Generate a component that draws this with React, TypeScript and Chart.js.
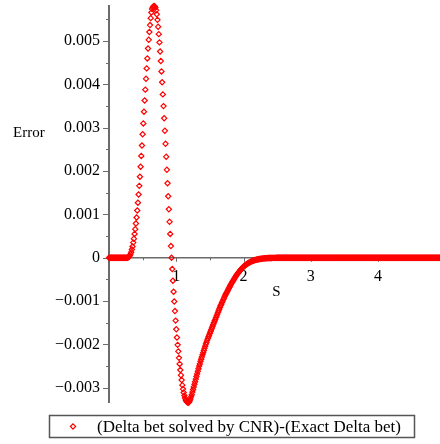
import React, { useEffect, useRef } from 'react';
import { Chart, registerables } from 'chart.js';

Chart.register(...registerables);

// ---- data ----
const SERIES_LABEL = '(Delta bet solved by CNR)-(Exact Delta bet)';
const X_TITLE = 'S';
const Y_TITLE = 'Error';

// sample grid of S
const S_START = 0;
const S_STEP = 0.01;
// Error values in units of 1e-3, one per S sample (S = 0.00, 0.01, ... 4.92)
const ERROR_UNIT = 1e-3;
const ERROR_MILLI = [
  0, 0, 0, 0, 0, 0, 0, 0, 0, 0, // 0.00
  0, 0, 0, 0, 0, 0, 0, 0, 0, 0, // 0.10
  0, 0, 0, 0, 0, 0, 0.001, 0.002, 0.005, 0.012, // 0.20
  0.025, 0.05, 0.085, 0.13, 0.19, 0.26, 0.35, 0.44, 0.55, 0.66, // 0.30
  0.79, 0.93, 1.09, 1.27, 1.46, 1.66, 1.87, 2.10, 2.35, 2.59, // 0.40
  2.85, 3.10, 3.37, 3.63, 3.88, 4.13, 4.37, 4.60, 4.83, 5.03, // 0.50
  5.21, 5.37, 5.53, 5.66, 5.74, 5.78, 5.80, 5.81, 5.80, 5.77, // 0.60
  5.71, 5.62, 5.49, 5.33, 5.16, 4.97, 4.76, 4.54, 4.30, 4.05, // 0.70
  3.77, 3.50, 3.22, 2.93, 2.63, 2.33, 2.03, 1.72, 1.42, 1.12, // 0.80
  0.83, 0.55, 0.27, 0, -0.26, -0.53, -0.785, -1.01, -1.23, -1.45, // 0.90
  -1.65, -1.84, -2.01, -2.16, -2.31, -2.45, -2.59, -2.71, -2.82, -2.94, // 1.00
  -3.03, -3.11, -3.18, -3.235, -3.28, -3.31, -3.33, -3.34, -3.345, -3.33, // 1.10
  -3.30, -3.26, -3.21, -3.16, -3.10, -3.04, -2.98, -2.92, -2.86, -2.80, // 1.20
  -2.74, -2.68, -2.62, -2.56, -2.50, -2.45, -2.39, -2.34, -2.29, -2.24, // 1.30
  -2.19, -2.14, -2.09, -2.04, -1.99, -1.95, -1.90, -1.86, -1.82, -1.78, // 1.40
  -1.74, -1.70, -1.66, -1.62, -1.58, -1.54, -1.50, -1.46, -1.42, -1.38, // 1.50
  -1.34, -1.30, -1.26, -1.22, -1.18, -1.14, -1.10, -1.07, -1.03, -1.00, // 1.60
  -0.96, -0.93, -0.89, -0.86, -0.83, -0.80, -0.77, -0.74, -0.71, -0.68, // 1.70
  -0.65, -0.62, -0.59, -0.565, -0.54, -0.515, -0.49, -0.465, -0.44, -0.415, // 1.80
  -0.39, -0.37, -0.35, -0.33, -0.31, -0.29, -0.27, -0.25, -0.235, -0.22, // 1.90
  -0.205, -0.19, -0.178, -0.166, -0.155, -0.144, -0.134, -0.124, -0.115, -0.106, // 2.00
  -0.098, -0.09, -0.083, -0.076, -0.07, -0.064, -0.059, -0.054, -0.049, -0.045, // 2.10
  -0.041, -0.037, -0.034, -0.031, -0.028, -0.025, -0.023, -0.021, -0.019, -0.017, // 2.20
  -0.015, -0.014, -0.012, -0.011, -0.01, -0.009, -0.008, -0.007, -0.006, -0.006, // 2.30
  -0.005, -0.004, -0.004, -0.003, -0.003, -0.003, -0.002, -0.002, -0.002, -0.001, // 2.40
  -0.001, 0, 0, 0, 0, 0, 0, 0, 0, 0, // 2.50
  0, 0, 0, 0, 0, 0, 0, 0, 0, 0, // 2.60
  0, 0, 0, 0, 0, 0, 0, 0, 0, 0, // 2.70
  0, 0, 0, 0, 0, 0, 0, 0, 0, 0, // 2.80
  0, 0, 0, 0, 0, 0, 0, 0, 0, 0, // 2.90
  0, 0, 0, 0, 0, 0, 0, 0, 0, 0, // 3.00
  0, 0, 0, 0, 0, 0, 0, 0, 0, 0, // 3.10
  0, 0, 0, 0, 0, 0, 0, 0, 0, 0, // 3.20
  0, 0, 0, 0, 0, 0, 0, 0, 0, 0, // 3.30
  0, 0, 0, 0, 0, 0, 0, 0, 0, 0, // 3.40
  0, 0, 0, 0, 0, 0, 0, 0, 0, 0, // 3.50
  0, 0, 0, 0, 0, 0, 0, 0, 0, 0, // 3.60
  0, 0, 0, 0, 0, 0, 0, 0, 0, 0, // 3.70
  0, 0, 0, 0, 0, 0, 0, 0, 0, 0, // 3.80
  0, 0, 0, 0, 0, 0, 0, 0, 0, 0, // 3.90
  0, 0, 0, 0, 0, 0, 0, 0, 0, 0, // 4.00
  0, 0, 0, 0, 0, 0, 0, 0, 0, 0, // 4.10
  0, 0, 0, 0, 0, 0, 0, 0, 0, 0, // 4.20
  0, 0, 0, 0, 0, 0, 0, 0, 0, 0, // 4.30
  0, 0, 0, 0, 0, 0, 0, 0, 0, 0, // 4.40
  0, 0, 0, 0, 0, 0, 0, 0, 0, 0, // 4.50
  0, 0, 0, 0, 0, 0, 0, 0, 0, 0, // 4.60
  0, 0, 0, 0, 0, 0, 0, 0, 0, 0, // 4.70
  0, 0, 0, 0, 0, 0, 0, 0, 0, 0, // 4.80
  0, 0, 0, // 4.90
];

const X_MIN = 0;
const X_MAX = 4.92;
const Y_MIN = -0.00334;
const Y_MAX = 0.00581;

const X_TICK_VALUES = [1, 2, 3, 4];
const X_TICK_LABELS = ['1', '2', '3', '4'];
const X_MINOR_TICKS = [0.5, 1.5, 2.5, 3.5, 4.5];
const Y_TICK_VALUES = [-0.003, -0.002, -0.001, 0, 0.001, 0.002, 0.003, 0.004, 0.005];
const Y_TICK_LABELS = ['\u22120.003', '\u22120.002', '\u22120.001', '0', '0.001', '0.002', '0.003', '0.004', '0.005'];
const Y_MINOR_TICKS = [-0.0025, -0.0015, -0.0005, 0.0005, 0.0015, 0.0025, 0.0035, 0.0045, 0.0055];

// ---- styles ----
const FONT_FAMILY = '"Liberation Serif", "Times New Roman", serif';
const TICK_FONT_SIZE = 16;
const TITLE_FONT_SIZE = 15;
const LEGEND_FONT_SIZE = 17;
const AXIS_COLOR = '#6b6b6b';
const MARK_COLOR = '#ff0000';

const decorPlugin = {
  id: 'mapleDecor',
  beforeDatasetsDraw(chart: any) {
    const { ctx, scales } = chart;
    const xs = scales.x;
    const ys = scales.y;
    const axisX = xs.getPixelForValue(0);
    const axisY = ys.getPixelForValue(0);
    ctx.save();
    ctx.strokeStyle = AXIS_COLOR;
    ctx.lineWidth = 1;
    ctx.beginPath();
    Y_TICK_VALUES.forEach((v) => {
      const p = Math.round(ys.getPixelForValue(v)) + 0.5;
      ctx.moveTo(axisX - 6, p);
      ctx.lineTo(axisX, p);
    });
    Y_MINOR_TICKS.forEach((v) => {
      const p = Math.round(ys.getPixelForValue(v)) + 0.5;
      ctx.moveTo(axisX - 3, p);
      ctx.lineTo(axisX, p);
    });
    X_TICK_VALUES.forEach((v) => {
      const p = Math.round(xs.getPixelForValue(v)) + 0.5;
      ctx.moveTo(p, axisY);
      ctx.lineTo(p, axisY + 4);
    });
    X_MINOR_TICKS.forEach((v) => {
      const p = Math.round(xs.getPixelForValue(v)) + 0.5;
      ctx.moveTo(p, axisY);
      ctx.lineTo(p, axisY + 2.5);
    });
    ctx.stroke();
    ctx.restore();
  },
  afterDraw(chart: any) {
    const { ctx, chartArea, scales } = chart;
    const axisY = scales.y.getPixelForValue(0);
    ctx.save();
    ctx.fillStyle = '#000';
    ctx.font = `${TITLE_FONT_SIZE}px ${FONT_FAMILY}`;
    ctx.textBaseline = 'middle';
    // y title (horizontal, left)
    ctx.textAlign = 'left';
    ctx.fillText(Y_TITLE, 13, 133);
    // x title below tick labels
    ctx.textAlign = 'center';
    ctx.fillText(X_TITLE, (chartArea.left + chartArea.right) / 2 + 2, axisY + 34);

    // legend box
    const bx = 49.5, by = 415.5, bw = 365, bh = 22;
    ctx.strokeStyle = '#555';
    ctx.lineWidth = 1.5;
    ctx.strokeRect(bx, by, bw, bh);
    // marker
    const mx = 73, my = by + bh / 2, r = 2.6;
    ctx.strokeStyle = MARK_COLOR;
    ctx.lineWidth = 1.2;
    ctx.beginPath();
    ctx.moveTo(mx - r, my);
    ctx.lineTo(mx, my - r);
    ctx.lineTo(mx + r, my);
    ctx.lineTo(mx, my + r);
    ctx.closePath();
    ctx.stroke();
    ctx.font = `${LEGEND_FONT_SIZE}px ${FONT_FAMILY}`;
    ctx.textAlign = 'left';
    ctx.fillStyle = '#000';
    ctx.fillText(SERIES_LABEL, 97, my + 1);
    ctx.restore();
  },
};

export default function App() {
  const ref = useRef<HTMLCanvasElement>(null);
  useEffect(() => {
    document.body.style.margin = '0';
    const points = ERROR_MILLI.map((v, i) => ({ x: S_START + i * S_STEP, y: v * ERROR_UNIT }));
    const font = { family: FONT_FAMILY, size: TICK_FONT_SIZE };
    const chart = new Chart(ref.current as HTMLCanvasElement, {
      type: 'scatter',
      data: {
        datasets: [
          {
            label: SERIES_LABEL,
            data: points,
            showLine: false,
            pointStyle: 'rectRot',
            pointRadius: 2.6,
            pointBorderWidth: 1.2,
            pointBorderColor: MARK_COLOR,
            pointBackgroundColor: 'rgba(0,0,0,0)',
            borderColor: MARK_COLOR,
            backgroundColor: 'rgba(0,0,0,0)',
            clip: false,
          } as any,
        ],
      },
      options: {
        responsive: false,
        animation: false,
        devicePixelRatio: 1,
        layout: { autoPadding: false, padding: { top: 6, bottom: 41.5, left: 0, right: 0 } },
        plugins: { legend: { display: false }, tooltip: { enabled: false } },
        scales: {
          x: {
            type: 'linear',
            min: X_MIN,
            max: X_MAX,
            position: { y: 0 } as any,
            grid: { display: true, drawOnChartArea: false, drawTicks: false, color: AXIS_COLOR },
            border: { display: true, color: AXIS_COLOR, width: 1.5 },
            afterBuildTicks: (s: any) => {
              s.ticks = X_TICK_VALUES.map((v) => ({ value: v }));
            },
            afterFit: (s: any) => {
              s.paddingLeft = 0;
              s.paddingRight = 0;
              s.paddingTop = 0;
              s.paddingBottom = 0;
            },
            ticks: {
              color: '#000',
              font,
              padding: 9,
              maxRotation: 0,
              autoSkip: false,
              callback: (_v: any, i: number) => X_TICK_LABELS[i],
            },
          },
          y: {
            type: 'linear',
            min: Y_MIN,
            max: Y_MAX,
            position: 'left',
            afterFit: (s: any) => {
              s.width = 109;
              s.paddingTop = 0;
              s.paddingBottom = 0;
              s.paddingLeft = 0;
              s.paddingRight = 0;
            },
            grid: { display: true, drawOnChartArea: false, drawTicks: false, color: AXIS_COLOR },
            border: { display: true, color: AXIS_COLOR, width: 2 },
            afterBuildTicks: (s: any) => {
              s.ticks = Y_TICK_VALUES.map((v) => ({ value: v }));
            },
            ticks: {
              color: '#000',
              font,
              padding: 9,
              autoSkip: false,
              callback: (_v: any, i: number) => Y_TICK_LABELS[i],
            },
          },
        },
      },
      plugins: [decorPlugin],
    });
    return () => chart.destroy();
  }, []);
  return <canvas ref={ref} width={440} height={444} style={{ display: 'block' }} />;
}
